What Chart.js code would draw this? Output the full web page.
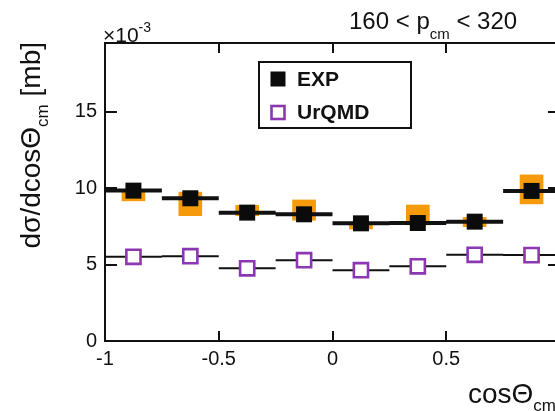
<!DOCTYPE html>
<html>
<head>
<meta charset="utf-8">
<script src="https://cdn.jsdelivr.net/npm/chart.js@4.4.1/dist/chart.umd.min.js"></script>
<style>
  html, body { margin: 0; padding: 0; background: #fff; overflow: hidden; }
  #wrap { width: 555px; height: 411px; overflow: hidden; position: relative; }
  canvas { display: block; }
</style>
</head>
<body>
<div id="wrap"><canvas id="c" width="600" height="411"></canvas></div>
<script>
// cosΘ_cm bins (width 0.25) and measured / model cross sections (×10^-3 mb)
const binCenters = [-0.875, -0.625, -0.375, -0.125, 0.125, 0.375, 0.625, 0.875];
const binHalfWidth = 0.125;
const expValues   = [9.84, 9.34, 8.40, 8.29, 7.70, 7.72, 7.81, 9.82];
const expSysLow   = [9.17, 8.20, 8.20, 7.90, 7.33, 7.60, 7.48, 8.97];
const expSysHigh  = [9.89, 9.74, 8.88, 9.23, 7.75, 8.90, 8.09, 10.87];
const urqmdValues = [5.51, 5.55, 4.76, 5.29, 4.63, 4.89, 5.64, 5.62];
const xTicks = [-1, -0.5, 0, 0.5, 1];
const yTicks = [0, 5, 10, 15];

const FONT = "'Liberation Sans', Arial, sans-serif";
const INK = '#111111';
const ORANGE = '#f59a0a';
const PURPLE = '#8b36b3';

// horizontal bin-width segments, broken between bins
function binSegments(values) {
  const pts = [];
  values.forEach((v, i) => {
    pts.push({ x: binCenters[i] - binHalfWidth, y: v });
    pts.push({ x: binCenters[i] + binHalfWidth, y: v });
    pts.push({ x: binCenters[i] + binHalfWidth, y: null });
  });
  return pts;
}

// text with optional sub/superscript runs, left aligned at (x, y) baseline
function drawRich(ctx, parts, x, y) {
  let cx = x;
  parts.forEach(p => {
    ctx.font = (p.bold ? 'bold ' : '') + p.size + 'px ' + FONT;
    ctx.fillText(p.t, cx, y + (p.dy || 0));
    cx += ctx.measureText(p.t).width;
  });
  return cx - x;
}
function richWidth(ctx, parts) {
  let w = 0;
  parts.forEach(p => {
    ctx.font = (p.bold ? 'bold ' : '') + p.size + 'px ' + FONT;
    w += ctx.measureText(p.t).width;
  });
  return w;
}

const framePlugin = {
  id: 'frame',
  afterDatasetsDraw(chart) {
    const { ctx, chartArea: a, scales } = chart;
    ctx.save();
    ctx.strokeStyle = INK;
    ctx.lineWidth = 2;
    ctx.strokeRect(a.left, a.top, a.right - a.left, a.bottom - a.top);
    ctx.beginPath();
    xTicks.forEach(v => {
      const px = Math.round(scales.x.getPixelForValue(v));
      ctx.moveTo(px, a.bottom); ctx.lineTo(px, a.bottom - 10);
      ctx.moveTo(px, a.top);    ctx.lineTo(px, a.top + 10);
    });
    yTicks.forEach(v => {
      const py = Math.round(scales.y.getPixelForValue(v));
      ctx.moveTo(a.left, py);  ctx.lineTo(a.left + 12, py);
      ctx.moveTo(a.right, py); ctx.lineTo(a.right - 12, py);
    });
    ctx.stroke();
    ctx.restore();
  },
  afterDraw(chart) {
    const { ctx } = chart;
    ctx.save();
    ctx.fillStyle = INK;
    ctx.textBaseline = 'alphabetic';
    ctx.textAlign = 'left';

    // panel title
    drawRich(ctx, [
      { t: '160 < p', size: 24 },
      { t: 'cm', size: 15, dy: 10 },
      { t: ' < 320', size: 24 }
    ], 349, 29);

    // axis multiplier
    drawRich(ctx, [
      { t: '\u00d710', size: 21 },
      { t: '-3', size: 14, dy: -10 }
    ], 103, 42);

    // x title
    drawRich(ctx, [
      { t: 'cos\u0398', size: 28 },
      { t: 'cm', size: 17, dy: 8 }
    ], 468, 403);

    // y title, rotated
    const yParts = [
      { t: 'd\u03c3/dcos\u0398', size: 28 },
      { t: 'cm', size: 17, dy: 8 },
      { t: ' [mb]', size: 28 }
    ];
    const w = richWidth(ctx, yParts);
    ctx.translate(39.5, 42 + w);
    ctx.rotate(-Math.PI / 2);
    drawRich(ctx, yParts, 0, 0);
    ctx.restore();

    // legend
    const ds = chart.data.datasets;
    const entries = [ds[0], ds[1]];
    ctx.save();
    ctx.fillStyle = '#ffffff';
    ctx.fillRect(259, 62, 152, 66);
    ctx.strokeStyle = INK;
    ctx.lineWidth = 2;
    ctx.strokeRect(259, 62, 152, 66);
    entries.forEach((d, i) => {
      const cy = 79 + i * 33.5;
      if (d.backgroundColor === '#ffffff') {
        ctx.fillStyle = '#ffffff';
        ctx.fillRect(270.5, cy - 7.5, 15, 15);
        ctx.strokeStyle = d.borderColor;
        ctx.lineWidth = d.borderWidth;
        ctx.strokeRect(271.5, cy - 6.5, 13, 13);
      } else {
        ctx.fillStyle = d.backgroundColor;
        ctx.fillRect(270.5, cy - 7.5, 15, 15);
      }
      ctx.fillStyle = INK;
      ctx.font = 'bold 21px ' + FONT;
      ctx.textBaseline = 'middle';
      ctx.fillText(d.label, 297, cy + 1);
    });
    ctx.restore();
  }
};

new Chart(document.getElementById('c'), {
  type: 'scatter',
  data: {
    datasets: [
      {
        label: 'EXP',
        type: 'scatter',
        data: binCenters.map((c, i) => ({ x: c, y: expValues[i] })),
        pointStyle: 'rect',
        pointRadius: 11.3,
        backgroundColor: '#0b0b0b',
        borderColor: '#0b0b0b',
        borderWidth: 0,
        order: 0
      },
      {
        label: 'UrQMD',
        type: 'scatter',
        data: binCenters.map((c, i) => ({ x: c, y: urqmdValues[i] })),
        pointStyle: 'rect',
        pointRadius: 10,
        backgroundColor: '#ffffff',
        borderColor: PURPLE,
        borderWidth: 2.6,
        order: 0
      },
      {
        label: 'EXP bins',
        type: 'line',
        data: binSegments(expValues),
        borderColor: INK,
        borderWidth: 4,
        pointRadius: 0,
        spanGaps: false,
        borderCapStyle: 'butt',
        order: 1
      },
      {
        label: 'UrQMD bins',
        type: 'line',
        data: binSegments(urqmdValues),
        borderColor: INK,
        borderWidth: 2,
        pointRadius: 0,
        spanGaps: false,
        borderCapStyle: 'butt',
        order: 1
      },
      {
        label: 'EXP sys',
        type: 'bar',
        data: binCenters.map((c, i) => ({ x: c, y: [expSysLow[i], expSysHigh[i]] })),
        backgroundColor: ORANGE,
        borderWidth: 0,
        barThickness: 23,
        grouped: false,
        order: 2
      }
    ]
  },
  options: {
    responsive: false,
    animation: false,
    devicePixelRatio: 1,
    layout: { padding: { top: 43, right: 40, left: 0, bottom: 0 } },
    plugins: { legend: { display: false }, tooltip: { enabled: false } },
    scales: {
      x: {
        type: 'linear', min: -1, max: 1, offset: false,
        afterBuildTicks: s => { s.ticks = xTicks.map(v => ({ value: v })); },
        afterFit: s => { s.height = 70; },
        grid: { display: false, drawTicks: false },
        border: { display: false },
        ticks: {
          font: { family: FONT, size: 20 }, color: INK, padding: 6,
          maxRotation: 0, autoSkip: false,
          callback: v => (v === 1 ? '' : String(v))
        }
      },
      y: {
        type: 'linear', min: 0, max: 19.5,
        afterBuildTicks: s => { s.ticks = yTicks.map(v => ({ value: v })); },
        afterFit: s => { s.width = 105; },
        grid: { display: false, drawTicks: false },
        border: { display: false },
        ticks: {
          font: { family: FONT, size: 20 }, color: INK, padding: 8,
          callback: v => String(v)
        }
      }
    }
  },
  plugins: [framePlugin]
});
</script>
</body>
</html>
